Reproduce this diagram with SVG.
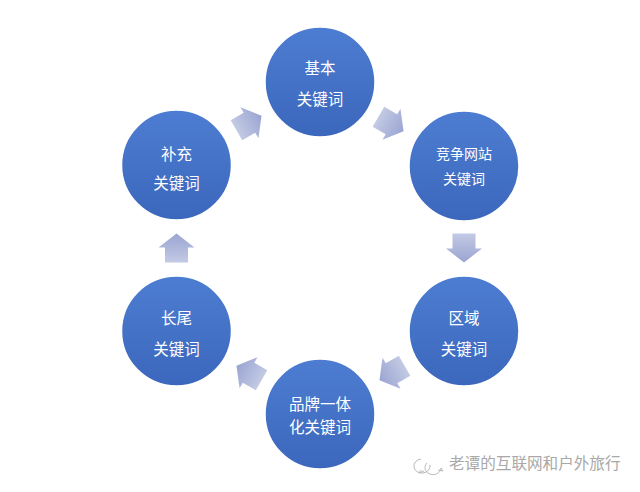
<svg xmlns="http://www.w3.org/2000/svg" width="640" height="492" viewBox="0 0 640 492">
<defs>
<linearGradient id="cg" x1="0" y1="0" x2="0" y2="1">
<stop offset="0" stop-color="#4d7dd2"/>
<stop offset="1" stop-color="#3b67bc"/>
</linearGradient>
<linearGradient id="ag" x1="0" y1="0" x2="1" y2="0">
<stop offset="0" stop-color="#c3cae4"/>
<stop offset="1" stop-color="#9aa5d2"/>
</linearGradient>
<path id="arrow" d="M-14.5,-11.5 L0.5,-11.5 L0.5,-18 L14.5,0 L0.5,18 L0.5,11.5 L-14.5,11.5 Z"/>
</defs>
<style>
.node circle{fill:url(#cg);stroke:#ffffff;stroke-width:1.5}
.node text{font-family:"Noto Sans CJK SC","Liberation Sans",sans-serif;fill:#ffffff;font-size:15.5px;text-anchor:middle;dominant-baseline:central}
.arr use{fill:url(#ag)}
.wm{font-family:"Noto Sans CJK SC","Liberation Sans",sans-serif;fill:#a8a8a8;font-size:15.6px}
</style>
<rect width="640" height="492" fill="#ffffff"/>
<g id="connectors" class="arr">
<use href="#arrow" transform="translate(391,124) rotate(30)"/>
<use href="#arrow" transform="translate(464,248) rotate(90)"/>
<use href="#arrow" transform="translate(392,373) rotate(150)"/>
<use href="#arrow" transform="translate(249,373) rotate(210)"/>
<use href="#arrow" transform="translate(176.5,248) rotate(270)"/>
<use href="#arrow" transform="translate(249,123) rotate(330)"/>
</g>
<g id="node-basic" class="node">
<circle cx="320" cy="82" r="55"/>
<text x="320" y="67">基本</text>
<text x="320" y="98">关键词</text>
</g>
<g id="node-competitor" class="node">
<circle cx="464" cy="166" r="55"/>
<text x="464" y="153" style="font-size:14px">竞争网站</text>
<text x="464" y="178" style="font-size:14px">关键词</text>
</g>
<g id="node-region" class="node">
<circle cx="464" cy="331" r="55"/>
<text x="464" y="317">区域</text>
<text x="464" y="348">关键词</text>
</g>
<g id="node-brand" class="node">
<circle cx="320" cy="414" r="55"/>
<text x="320" y="403">品牌一体</text>
<text x="320" y="426">化关键词</text>
</g>
<g id="node-longtail" class="node">
<circle cx="176.5" cy="331" r="55"/>
<text x="176.5" y="317">长尾</text>
<text x="176.5" y="348">关键词</text>
</g>
<g id="node-supplement" class="node">
<circle cx="176.5" cy="165" r="55"/>
<text x="176.5" y="153">补充</text>
<text x="176.5" y="182">关键词</text>
</g>
<g id="watermark">
<g fill="none" stroke="#b8b8b8" stroke-width="1">
<path d="M430,465 a8,7 0 1 1 -9,-6 M421,470 l-2,3 l5,-2"/>
<path d="M427,463 a8,7 0 1 0 14,5 l2,3 l-5,-1"/>
</g>
<text class="wm" x="449" y="469">老谭的互联网和户外旅行</text>
</g>
</svg>
